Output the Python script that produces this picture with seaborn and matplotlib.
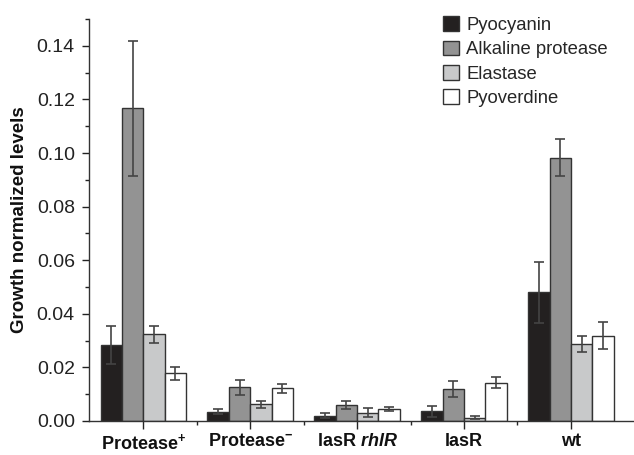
import numpy as np
import pandas as pd
import matplotlib
matplotlib.use("Agg")
import matplotlib.pyplot as plt
import seaborn as sns
from matplotlib.ticker import MultipleLocator, FixedLocator

# values
strains = ["Protease+", "Protease-", "lasR rhlR", "lasR", "wt"]
strain_labels = [r"Protease$^{\mathbf{+}}$", r"Protease$^{\mathbf{-}}$",
                 r"lasR $\mathit{rhlR}$", "lasR", "wt"]
products = ["Pyocyanin", "Alkaline protease", "Elastase", "Pyoverdine"]

pyocyanin = [0.0284, 0.0035, 0.0020, 0.0036, 0.0480]
alk_protease = [0.1168, 0.0126, 0.0060, 0.0119, 0.0983]
elastase = [0.0324, 0.0062, 0.0031, 0.0012, 0.0286]
pyoverdine = [0.0178, 0.0122, 0.0044, 0.0143, 0.0318]

pyocyanin_err = [0.0072, 0.0009, 0.0010, 0.0020, 0.0114]
alk_protease_err = [0.0252, 0.0028, 0.0016, 0.0029, 0.0070]
elastase_err = [0.0032, 0.0013, 0.0016, 0.0006, 0.0030]
pyoverdine_err = [0.0025, 0.0017, 0.0007, 0.0019, 0.0050]

colors = ["#231f20", "#939393", "#c8c9ca", "#ffffff"]

vals = [pyocyanin, alk_protease, elastase, pyoverdine]
errs = [pyocyanin_err, alk_protease_err, elastase_err, pyoverdine_err]

rows = []
for p, v in zip(products, vals):
    for s, x in zip(strains, v):
        rows.append({"strain": s, "product": p, "level": x})
df = pd.DataFrame(rows)

sns.set_style("ticks")
plt.rcParams["font.family"] = ["Liberation Sans", "DejaVu Sans"]
plt.rcParams["mathtext.fontset"] = "custom"
plt.rcParams["mathtext.rm"] = "Liberation Sans:bold"
plt.rcParams["mathtext.bf"] = "Liberation Sans:bold"
plt.rcParams["mathtext.it"] = "Liberation Sans:italic:bold"

fig = plt.figure(figsize=(6.34, 4.55), dpi=100)
ax = fig.add_axes([0.140, 0.075, 0.860, 0.883])

sns.barplot(data=df, x="strain", y="level", hue="product", order=strains,
            hue_order=products, palette=colors, errorbar=None, width=0.8,
            edgecolor="#333333", linewidth=1.0, ax=ax)

# error bars on top of each bar
for cont, e in zip(ax.containers, errs):
    xs = [b.get_x() + b.get_width() / 2 for b in cont]
    ys = [b.get_height() for b in cont]
    ax.errorbar(xs, ys, yerr=e, fmt="none", ecolor="#444444",
                elinewidth=1.2, capsize=3.5, capthick=1.2, zorder=5)

ax.set_ylim(0, 0.15)
ax.set_xlim(-0.51, 4.59)
ax.yaxis.set_major_locator(FixedLocator(np.arange(0, 0.141, 0.02)))
ax.yaxis.set_minor_locator(MultipleLocator(0.01))
ax.set_yticklabels([f"{t:.2f}" for t in np.arange(0, 0.141, 0.02)])
ax.xaxis.set_minor_locator(FixedLocator([0.5, 1.5, 2.5, 3.5]))
ax.set_xticks(range(len(strains)))
ax.set_xticklabels(strain_labels, fontweight="bold", fontsize=13,
                   color="#111111")

ax.tick_params(axis="y", which="major", length=5, width=1, labelsize=14,
               pad=5, colors="#222222")
ax.tick_params(axis="y", which="minor", length=3, width=1, colors="#222222")
ax.tick_params(axis="x", which="major", length=6, width=1, pad=3)
ax.tick_params(axis="x", which="minor", length=3, width=1)

ax.set_xlabel("")
ax.set_ylabel("Growth normalized levels", fontsize=13.5, fontweight="bold",
              labelpad=6, color="#111111")

for sp in ["top", "right"]:
    ax.spines[sp].set_visible(False)
for sp in ["left", "bottom"]:
    ax.spines[sp].set_color("#333333")
    ax.spines[sp].set_linewidth(1.0)

ax.legend(loc="upper right", bbox_to_anchor=(0.972, 1.035), frameon=False,
          fontsize=13.3, handlelength=0.85, handleheight=0.85,
          labelspacing=0.36, handletextpad=0.4, borderaxespad=0.2)

fig.savefig("out.png", dpi=100)
